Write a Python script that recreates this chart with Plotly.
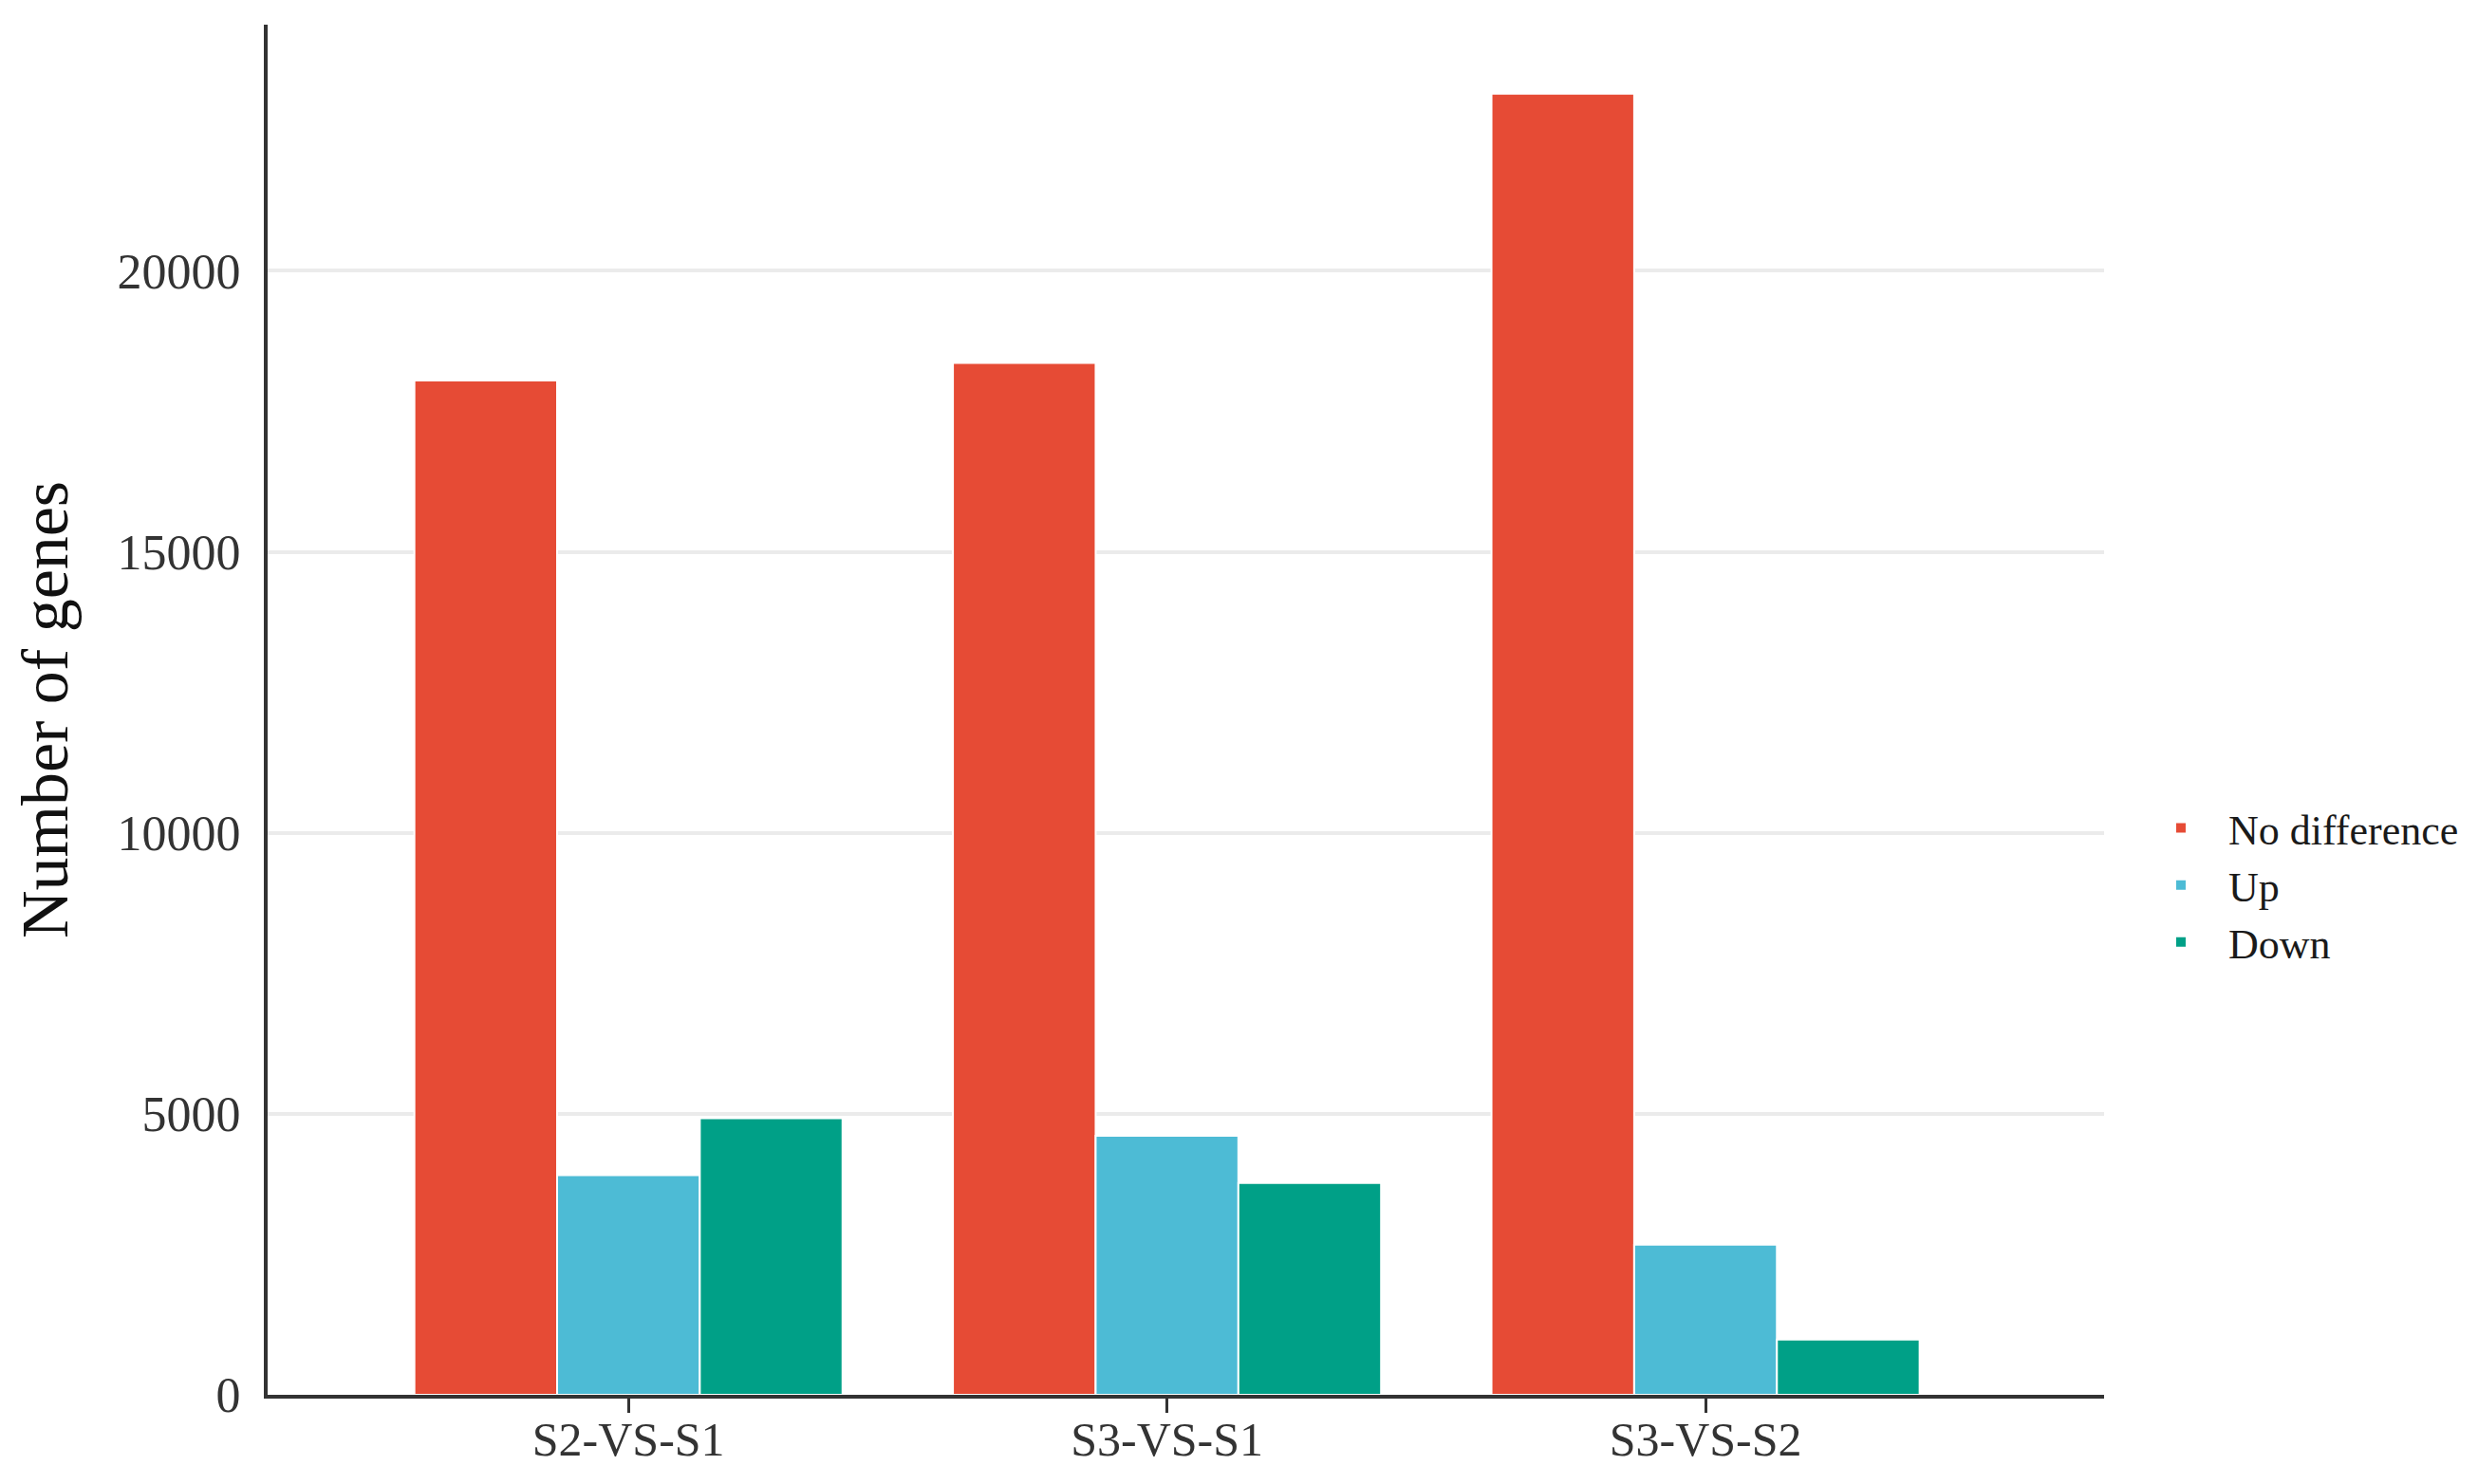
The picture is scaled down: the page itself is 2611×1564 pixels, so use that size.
import plotly.graph_objects as go

categories = ["S2-VS-S1", "S3-VS-S1", "S3-VS-S2"]
no_difference = [18050, 18360, 23150]
up = [3910, 4610, 2670]
down = [4920, 3770, 985]
series_names = ["No difference", "Up", "Down"]
series_colors = ["#E64B35", "#4DBBD5", "#00A087"]
y_ticks = [0, 5000, 10000, 15000, 20000]

FONT = "Liberation Serif, Times New Roman, serif"

fig = go.Figure()
for name, vals, col in zip(series_names, [no_difference, up, down], series_colors):
    fig.add_trace(go.Bar(
        x=categories, y=vals, name=name,
        marker=dict(color=col, line=dict(color="white", width=2)),
    ))

fig.update_layout(
    width=2611, height=1564,
    barmode="group", bargap=0.205, bargroupgap=0.0,
    plot_bgcolor="white", paper_bgcolor="white",
    margin=dict(l=274, r=402, t=18, b=102, autoexpand=False),
    font=dict(family=FONT, color="#1a1a1a"),
    legend=dict(
        x=1.016, xanchor="left", y=0.372, yanchor="middle",
        itemwidth=90,
        font=dict(size=44, family=FONT, color="#1a1a1a"),
        bgcolor="rgba(0,0,0,0)",
    ),
)
fig.update_xaxes(
    range=[-0.67, 2.74], automargin=False,
    showline=True, linecolor="#333333", linewidth=4,
    ticks="outside", ticklen=15, tickwidth=3, tickcolor="#333333",
    ticklabelstandoff=-15,
    tickfont=dict(size=50, family=FONT, color="#333333"),
    showgrid=False, zeroline=False,
)
fig.update_yaxes(
    range=[0, 24380], automargin=False,
    tickvals=y_ticks, ticktext=[str(v) for v in y_ticks],
    showline=True, linecolor="#333333", linewidth=4,
    ticks="", ticklabelstandoff=14,
    tickfont=dict(size=52, family=FONT, color="#333333"),
    showgrid=True, gridcolor="#ebebeb", gridwidth=4,
    zeroline=False,
    title=dict(text="Number of genes", font=dict(size=70, family=FONT, color="#111111"), standoff=30),
)

fig.write_html("out.html")
